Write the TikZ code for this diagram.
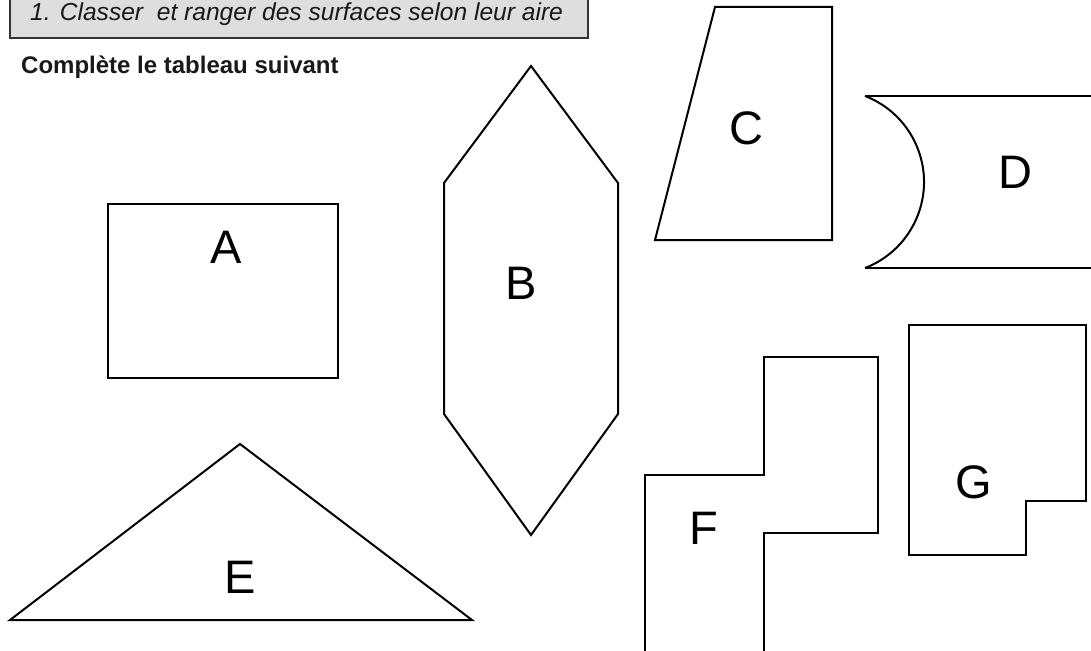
\documentclass[tikz,border=0pt]{standalone}
\usepackage{fontspec}
\setmainfont{Liberation Sans}
\begin{document}
\begin{tikzpicture}[x=1pt,y=-1pt,
  shape line/.style={draw=black,line width=2pt,line join=miter},
  letter/.style={font=\fontsize{47}{47}\selectfont,inner sep=0pt,anchor=center},
  titlebox/.style={draw=black!80,line width=2pt,fill=black!13}]
\useasboundingbox (0,0) rectangle (1091,650);
% title box
\draw[titlebox] (10,-5) rectangle (588,38);
\node[anchor=base west,inner sep=0pt,font=\fontsize{24.6}{24.6}\selectfont\itshape,text=black!90] (title) at (30,21) {1. Classer\ \ et ranger des surfaces selon leur aire};
\node[anchor=base west,inner sep=0pt,font=\fontsize{24}{24}\selectfont\bfseries,text=black!90] (sub) at (21,74) {Complète le tableau suivant};
% A
\draw[shape line] (108,204) rectangle (338,378);
\node[letter] (lA) at (226,247) {A};
% B
\draw[shape line] (531,66) -- (618,183) -- (618,414) -- (531,535) -- (444,414) -- (444,183) -- cycle;
\node[letter] (lB) at (521,283) {B};
% C
\draw[shape line] (715,7) -- (832,7) -- (832,240) -- (655,240) -- cycle;
\node[letter] (lC) at (746,128) {C};
% D
\draw[shape line] (865,96) -- (1095,96);
\draw[shape line] (865,268) -- (1095,268);
\draw[shape line] (865,96) arc[start angle=-68.9, end angle=68.9, radius=92.2];
\node[letter] (lD) at (1015,172) {D};
% E
\draw[shape line] (10,620) -- (240,444) -- (472,620) -- cycle;
\node[letter] (lE) at (240,577) {E};
% F
\draw[shape line] (645,655) -- (645,475) -- (764,475) -- (764,357) -- (878,357) -- (878,533) -- (764,533) -- (764,655);
\node[letter] (lF) at (704,528) {F};
% G
\draw[shape line] (909,325) -- (1086,325) -- (1086,501) -- (1026,501) -- (1026,555) -- (909,555) -- cycle;
\node[letter] (lG) at (974,482) {G};
\end{tikzpicture}
\end{document}
